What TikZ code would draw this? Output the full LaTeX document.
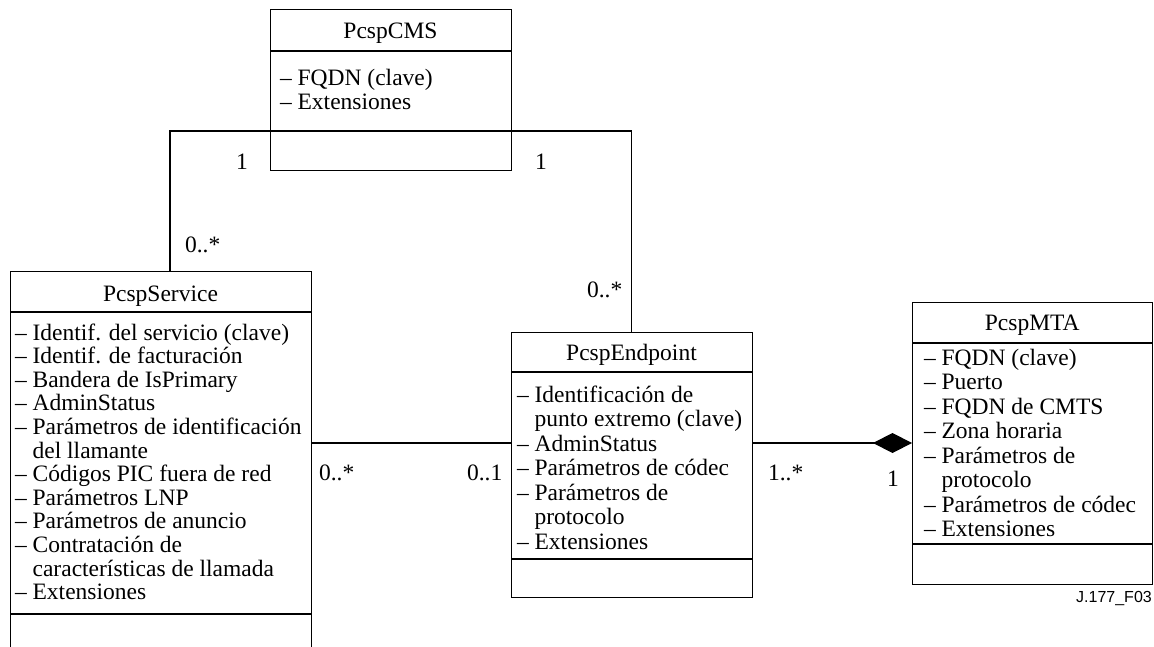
\documentclass[tikz,border=0pt]{standalone}
\usepackage{fontspec}
\setmainfont{Liberation Serif}
\newfontfamily\figsans{Liberation Sans}
\usetikzlibrary{arrows.meta,calc}
\tikzset{
  box/.style={draw=black, line width=1pt, inner sep=0pt, outer sep=0pt, anchor=north west},
  openbox/.style={draw=none, inner sep=0pt, outer sep=0pt, anchor=north west},
  border/.style={line width=1pt},
  divider/.style={line width=1.7pt},
  conn/.style={line width=1.4pt},
  txt/.style={inner sep=0pt, outer sep=0pt, font=\fontsize{23.5}{24}\selectfont},
  attr/.style={inner sep=0pt, outer sep=0pt, anchor=base west, font=\fontsize{23.5}{#1}\selectfont},
  title/.style={txt, anchor=base},
  mult/.style={txt, anchor=base west},
}
\begin{document}
\begin{tikzpicture}[x=1pt,y=-1pt]
\useasboundingbox (0,0) rectangle (1154,647);
\fill[white] (0,0) rectangle (1154,647);

% ---- boxes
\node[box, minimum width=241pt, minimum height=161pt] (cms) at (270,10) {};
\node[openbox, minimum width=301pt, minimum height=376pt] (svc) at (10,271) {};
\node[box, minimum width=241pt, minimum height=265pt] (ep) at (511,332) {};
\node[box, minimum width=240.5pt, minimum height=282pt] (mta) at (912,302) {};

\draw[border] (svc.south west) -- (svc.north west) -- (svc.north east) -- (svc.south east);

% ---- dividers
\draw[divider] ($(cms.north west)+(0,41)$) -- ($(cms.north east)+(0,41)$);
\draw[divider] ($(svc.north west)+(0,41)$) -- ($(svc.north east)+(0,41)$);
\draw[divider] ($(svc.north west)+(0,343)$) -- ($(svc.north east)+(0,343)$);
\draw[divider] ($(ep.north west)+(0,40)$) -- ($(ep.north east)+(0,40)$);
\draw[divider] ($(ep.north west)+(0,227)$) -- ($(ep.north east)+(0,227)$);
\draw[divider] ($(mta.north west)+(0,41)$) -- ($(mta.north east)+(0,41)$);
\draw[divider] ($(mta.north west)+(0,242)$) -- ($(mta.north east)+(0,242)$);

% ---- titles
\node[title] (cmsT) at ($(cms.north)+(0,29)$) {PcspCMS};
\node[title] (svcT) at ($(svc.north)+(0,30)$) {PcspService};
\node[title] (epT) at ($(ep.north)+(0,28)$) {PcspEndpoint};
\node[title] (mtaT) at ($(mta.north)+(0,28)$) {PcspMTA};

% ---- attributes
\node[attr=24] (cmsA) at (280,86) {\begin{tabular}[t]{@{}l@{}}
– FQDN (clave)\\
– Extensiones
\end{tabular}};
\node[attr=23.6] (svcA) at (15,340) {\begin{tabular}[t]{@{}l@{}}
– Identif. del servicio (clave)\\
– Identif. de facturación\\
– Bandera de IsPrimary\\
– AdminStatus\\
– Parámetros de identificación\\
\hphantom{– }del llamante\\
– Códigos PIC fuera de red\\
– Parámetros LNP\\
– Parámetros de anuncio\\
– Contratación de\\
\hphantom{– }características de llamada\\
– Extensiones
\end{tabular}};
\node[attr=24.5] (epA) at (517,402) {\begin{tabular}[t]{@{}l@{}}
– Identificación de\\
\hphantom{– }punto extremo (clave)\\
– AdminStatus\\
– Parámetros de códec\\
– Parámetros de\\
\hphantom{– }protocolo\\
– Extensiones
\end{tabular}};
\node[attr=24.5] (mtaA) at (924,365) {\begin{tabular}[t]{@{}l@{}}
– FQDN (clave)\\
– Puerto\\
– FQDN de CMTS\\
– Zona horaria\\
– Parámetros de\\
\hphantom{– }protocolo\\
– Parámetros de códec\\
– Extensiones
\end{tabular}};

% ---- connectors
\coordinate (bus) at (0,131);
\coordinate (mid) at (0,443);
\draw[conn] ($(svc.north west)+(160,0)$) |- (ep.north |- bus) -- (ep.north);
\draw[conn] (svc.east |- mid) -- (ep.west |- mid);
\draw[conn, {Diamond[length=39pt,width=20pt]}-] (mta.west |- mid) -- (ep.east |- mid);

% ---- multiplicities
\node[mult] (m1) at (236,170) {1};
\node[mult] (m2) at (185,253) {0..*};
\node[mult] (m3) at (535,170) {1};
\node[mult] (m4) at (587,297) {0..*};
\node[mult] (m5) at (319,480) {0..*};
\node[mult] (m6) at (467,480) {0..1};
\node[mult] (m7) at (768,480) {1..*};
\node[mult] (m8) at (887,486) {1};

\node[inner sep=0pt, anchor=base east, font=\figsans\fontsize{16}{18}\selectfont] (fig) at (1152,602) {J.177\_F03};
\end{tikzpicture}
\end{document}
